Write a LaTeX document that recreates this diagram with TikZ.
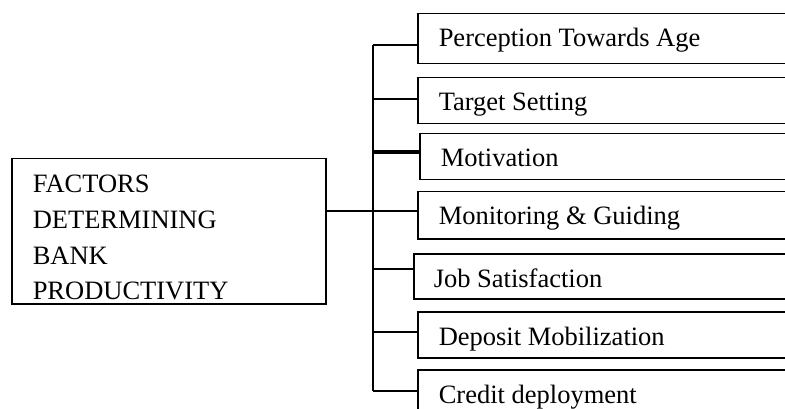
\documentclass[tikz,border=0pt]{standalone}
\usepackage{fontspec}
\setmainfont{Liberation Serif}
\begin{document}
\begin{tikzpicture}[x=1pt,y=-1pt,
  line width=1.5pt,
  box/.style={draw, rectangle, anchor=north west, minimum width=420pt, inner sep=0pt},
  lbl/.style={anchor=base west, inner sep=0pt, font=\fontsize{26.5}{30}\selectfont},
  link/.style={draw, line width=1.5pt},
  boldlink/.style={draw, line width=3.5pt}]
\useasboundingbox (0,0) rectangle (785,409);
\clip (0,0) rectangle (785,409);

% main factor box
\node[draw, rectangle, anchor=north west, minimum width=314pt, minimum height=145pt, inner sep=0pt] (main) at (11,158) {};
\node[lbl] (m1) at (32,193) {FACTORS};
\node[lbl] (m2) at (32,229) {DETERMINING};
\node[lbl] (m3) at (32,264) {BANK};
\node[lbl] (m4) at (32,299) {PRODUCTIVITY};

% factor boxes (open on the right)
\node[box, minimum height=50pt] (f1) at (417,13) {};
\node[box, minimum height=46pt] (f2) at (417,77) {};
\node[box, minimum height=46pt] (f3) at (419,133) {};
\node[box, minimum height=47pt] (f4) at (417,191) {};
\node[box, minimum height=45pt] (f5) at (413,253) {};
\node[box, minimum height=46pt] (f6) at (417,311) {};
\node[box, minimum height=60pt] (f7) at (417,369) {};

\node[lbl] (t1) at (438,47) {Perception Towards Age};
\node[lbl] (t2) at (438,111) {Target Setting};
\node[lbl] (t3) at (440,167) {Motivation};
\node[lbl] (t4) at (438,224) {Monitoring \& Guiding};
\node[lbl] (t5) at (433,287) {Job Satisfaction};
\node[lbl] (t6) at (438,345) {Deposit Mobilization};
\node[lbl] (t7) at (438,403) {Credit deployment};

% vertical bus
\coordinate (bt) at (373,45);
\coordinate (bb) at (373,391);
\draw[link] (bt) -- (bb);

% branches from the bus
\draw[link] (bt) -- (f1.west |- bt);
\draw[link] (373,99) -- (f2.west |- 0,99);
\draw[boldlink] (373,152) -- (f3.west |- 0,152);
\draw[link] (main.east |- 0,211) -- (f4.west |- 0,211);
\draw[link] (373,269) -- (f5.west |- 0,269);
\draw[link] (373,332) -- (f6.west |- 0,332);
\draw[link] (bb) -- (f7.west |- bb);
\end{tikzpicture}
\end{document}
